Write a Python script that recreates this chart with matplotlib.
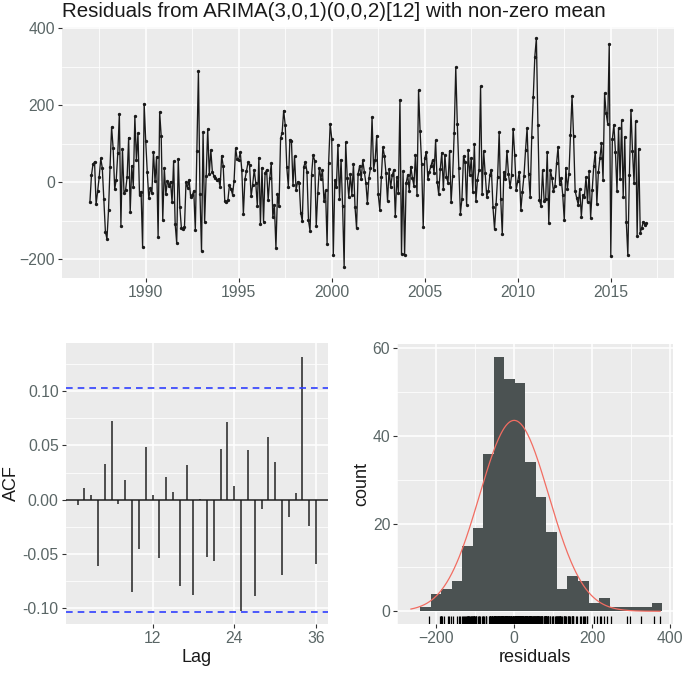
import numpy as np
import matplotlib
matplotlib.use("Agg")
from matplotlib import pyplot as plt
from matplotlib import transforms

plt.rcParams['font.family'] = ['Liberation Sans', 'DejaVu Sans']

# monthly residuals, Jan 1987 .. Dec 2016 (one row per year)
resid = [
    -52, 18, 47, 53, -57, -23, 14, 62, 37, -43, -128, -147,        # 1987
    -73, 41, 143, 88, -18, 7, 76, 178, -112, 86, -27, -21,         # 1988
    13, 116, -77, 43, -11, 171, 58, 127, -33, -24, -168, 204,      # 1989
    108, 26, -41, -16, -28, 79, 3, 66, -141, 182, 119, -98,        # 1990
    36, -31, 4, -9, 2, -52, 54, -108, -158, 61, -63, -118,         # 1991
    -121, -117, 1, -14, 6, -39, -34, -22, -124, 81, 289, -29,      # 1992
    -179, 131, -104, 16, 138, 21, 84, 27, 17, 12, 6, 9,            # 1993
    -12, 69, 42, -48, -51, -47, -8, -17, -32, 4, 88, 61,           # 1994
    59, 78, 31, -82, 8, 29, 52, 44, -36, -6, 33, -2,               # 1995
    -61, 64, -109, 38, -102, 24, 32, -46, 11, 49, -91, -58,        # 1996
    -171, -29, -62, 114, 129, 186, 148, 39, -11, 111, 108, -7,     # 1997
    67, -19, 1, -3, -79, -101, 41, 53, 28, -99, -126, 19,          # 1998
    71, 56, -114, -28, 38, 9, 31, -49, -21, -161, 51, 152,         # 1999
    113, -189, 6, -12, 98, -42, 59, -61, -219, 104, 11, -38,       # 2000
    21, -32, 48, -63, -119, 22, 43, 8, 57, 27, -1, -53,            # 2001
    12, 37, 169, 33, 58, 121, -31, -72, 13, 91, 68, 23,            # 2002
    -49, 34, -13, 18, 32, -88, 14, -27, 214, -186, 29, -188,       # 2003
    -2, 19, -22, 41, 12, -9, 72, -33, 239, 132, 47, -116,          # 2004
    62, 79, 9, 28, 43, 57, 23, 109, 2, -31, 34, 77,                # 2005
    -18, 71, 13, -1, 82, -51, 17, 128, 298, 151, 38, -81,          # 2006
    -42, 68, 52, -59, 83, 18, 63, -24, 99, -48, 7, 32,             # 2007
    249, -29, 81, 24, -37, -23, 19, 33, -64, -121, -57, 14,        # 2008
    131, -43, -134, 27, 8, 82, 22, -13, 18, 139, 72, -19,          # 2009
    3, 28, -71, -24, 17, 83, 141, 22, -39, 118, 221, 326,          # 2010
    374, 148, -47, -62, 31, -48, -43, 79, -106, 32, 12, -23,       # 2011
    -9, 49, 92, -4, 11, -33, -99, 38, -18, 21, 122, 224,           # 2012
    119, -22, -41, -58, -17, -89, -33, -37, 13, -52, 29, -92,      # 2013
    -21, 42, 79, -57, 27, 63, 101, 6, 231, 179, 152, 359,          # 2014
    -191, 112, 149, 78, -23, 141, 9, 161, -38, 118, -103, -189,    # 2015
    18, 188, 82, -3, 158, -139, 87, -131, -118, -102, -111, -106,  # 2016
]
start_year = 1987

# ACF of residuals, lags 1..36
lags = list(range(1, 37))
acf_vals = [
    -0.005, 0.011, 0.004, -0.061, 0.033, 0.073, -0.004, 0.018, -0.085, -0.046,
    0.049, 0.004, -0.054, 0.021, 0.007, -0.080, 0.032, -0.088, 0.001, -0.053,
    -0.057, 0.047, 0.072, 0.013, -0.103, 0.046, -0.089, -0.009, 0.058, 0.035,
    -0.070, -0.016, 0.006, 0.132, -0.024, -0.059,
]
ci = 0.1033

# histogram of residuals (bin counts)
bin_start = -241
bin_width = 27
counts = [1, 4, 5, 7, 15, 19, 36, 58, 53, 52, 34, 26, 18, 5, 8, 7, 2, 3, 1, 1, 1, 1, 2]
norm_mean = 0
norm_sd = 89

title = "Residuals from ARIMA(3,0,1)(0,0,2)[12] with non-zero mean"

panel_bg = "#EBEBEB"
tick_col = "#5A6666"


def style(ax):
    ax.set_facecolor(panel_bg)
    for s in ax.spines.values():
        s.set_visible(False)
    ax.grid(True, which="major", color="white", lw=1.1)
    ax.grid(True, which="minor", color="white", lw=0.55)
    ax.set_axisbelow(True)
    ax.tick_params(which="major", length=3, color="#333333", labelcolor=tick_col,
                   labelsize=11.3, width=0.8, pad=2)
    ax.tick_params(which="minor", length=0)


fig = plt.figure(figsize=(6.85, 6.73), dpi=100)

# time series panel
ax1 = fig.add_axes([0.0905, 0.587, 0.8935, 0.373])
style(ax1)
t = start_year + np.arange(len(resid)) / 12
ax1.plot(t, resid, color="#1A1A1A", lw=0.95, marker="o", ms=1.4)
ax1.set_xlim(1985.5, 2018.4)
ax1.set_ylim(-248, 403)
ax1.set_xticks([1990, 1995, 2000, 2005, 2010, 2015])
ax1.set_xticks(np.arange(1987.5, 2018, 5), minor=True)
ax1.set_yticks([-200, 0, 200, 400])
ax1.set_yticks([-100, 100, 300], minor=True)
fig.text(0.0905, 1 - 2 / 673, title, ha="left", va="top", fontsize=14.8, color="#1A1A1A")

# ACF panel
ax2 = fig.add_axes([0.0959, 0.0728, 0.3829, 0.4175])
style(ax2)
ax2.vlines(lags, 0, acf_vals, color="#333333", lw=1.2)
ax2.axhline(0, color="#1A1A1A", lw=1.1)
ax2.axhline(ci, color="#2F3FFF", lw=1.2, ls=(0, (4, 3)))
ax2.axhline(-ci, color="#2F3FFF", lw=1.2, ls=(0, (4, 3)))
ax2.set_xlim(-0.75, 37.75)
ax2.set_ylim(-0.1148, 0.1446)
ax2.set_xticks([12, 24, 36])
ax2.set_yticks([-0.10, -0.05, 0.0, 0.05, 0.10])
ax2.set_yticklabels(["-0.10", "-0.05", "0.00", "0.05", "0.10"])
ax2.set_yticks([-0.075, -0.025, 0.025, 0.075, 0.125], minor=True)
ax2.set_xlabel("Lag", fontsize=13, color="#1A1A1A", labelpad=2)
ax2.set_ylabel("ACF", fontsize=13, color="#1A1A1A", labelpad=2)

# histogram panel
ax3 = fig.add_axes([0.58, 0.0728, 0.4025, 0.4161])
style(ax3)
lefts = bin_start + bin_width * np.arange(len(counts))
ax3.bar(lefts, counts, width=bin_width, align="edge", color="#4B5252", lw=0)
xs = np.linspace(-265, 375, 300)
dens = len(resid) * bin_width / (norm_sd * np.sqrt(2 * np.pi)) * np.exp(-0.5 * ((xs - norm_mean) / norm_sd) ** 2)
ax3.plot(xs, dens, color="#F26D62", lw=0.9)
rug_tr = transforms.blended_transform_factory(ax3.transData, ax3.transAxes)
ax3.vlines(resid, 0, 0.03, transform=rug_tr, color="black", lw=0.9)
ax3.set_xlim(-296, 408)
ax3.set_ylim(-2.9, 61)
ax3.set_xticks([-200, 0, 200, 400])
ax3.set_xticks([-300, -100, 100, 300], minor=True)
ax3.set_yticks([0, 20, 40, 60])
ax3.set_yticks([10, 30, 50], minor=True)
ax3.set_xlabel("residuals", fontsize=13, color="#1A1A1A", labelpad=2)
ax3.set_ylabel("count", fontsize=13, color="#1A1A1A", labelpad=2)

fig.savefig("out.png", dpi=100)
